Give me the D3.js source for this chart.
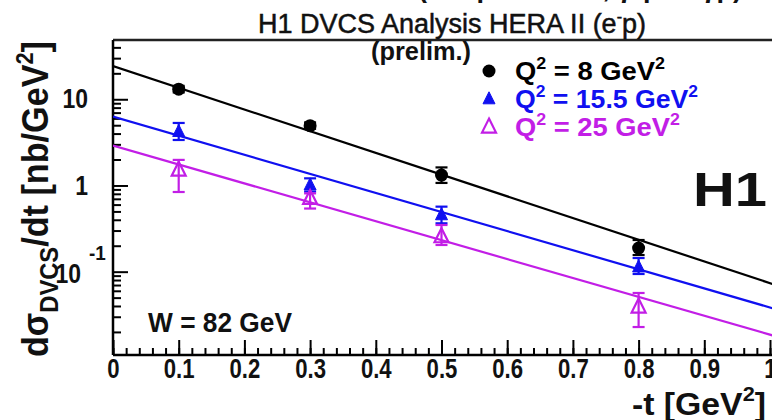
<!DOCTYPE html>
<html>
<head>
<meta charset="utf-8">
<script src="https://cdn.jsdelivr.net/npm/d3@7"></script>
<style>
  html, body { margin: 0; padding: 0; background: #fff; }
  svg { display: block; font-family: "Liberation Sans", Arial, Helvetica, sans-serif; }
</style>
</head>
<body>
<svg id="chart" width="772" height="420"></svg>
<script>
// -t bins [GeV^2]
const tValues = [0.1, 0.3, 0.5, 0.8];

// dσ/dt [nb/GeV^2] per Q^2 bin, with asymmetric error bars
const sigmaQ8   = [13.1, 4.94, 1.32, 0.188];
const errUpQ8   = [1.2, 0.45, 0.3, 0.045];
const errDnQ8   = [1.1, 0.4, 0.25, 0.032];

const sigmaQ15  = [4.21, 1.01, 0.455, 0.113];
const errUpQ15  = [1.1, 0.2, 0.113, 0.031];
const errDnQ15  = [0.84, 0.16, 0.091, 0.019];

const sigmaQ25  = [1.51, 0.71, 0.255, 0.039];
const errUpQ25  = [0.47, 0.10, 0.093, 0.0176];
const errDnQ25  = [0.67, 0.17, 0.051, 0.0162];

// exponential fits A·exp(-b|t|)
const fitAmplitude = [24.3, 6.3, 2.9];
const fitSlope     = [5.8, 5.1, 5.05];

const seriesLabels = ["8", "15.5", "25"];
const seriesColors = ["#000000", "#1010f0", "#c21ee6"];

const xTickLabels = [0, 0.1, 0.2, 0.3, 0.4, 0.5, 0.6, 0.7, 0.8, 0.9, 1];
const yMajorTicks = [0.1, 1, 10];

const series = [
  { v: sigmaQ8,  up: errUpQ8,  dn: errDnQ8,  marker: "dot" },
  { v: sigmaQ15, up: errUpQ15, dn: errDnQ15, marker: "tri" },
  { v: sigmaQ25, up: errUpQ25, dn: errDnQ25, marker: "opentri" }
].map((s, i) => ({ ...s, label: seriesLabels[i], color: seriesColors[i],
                   A: fitAmplitude[i], b: fitSlope[i] }));

// squeeze a text horizontally to a fraction of its natural width (condensed look)
function condense(sel, factor) {
  sel.each(function () {
    const w = this.getComputedTextLength();
    if (w > 0) d3.select(this).attr("textLength", w * factor).attr("lengthAdjust", "spacingAndGlyphs");
  });
}

const svg = d3.select("#chart");
const plotL = 113, plotR = 770, plotT = 40, plotB = 355;

const x = d3.scaleLinear().domain([0, 1]).range([plotL, plotR]);
const y = d3.scaleLog().domain([0.0108, 48.7]).range([plotB, plotT]);

// clip region for the plotting area
svg.append("clipPath").attr("id", "plotclip")
  .append("rect").attr("x", plotL).attr("y", plotT).attr("width", 772 - plotL).attr("height", plotB - plotT);

// frame
svg.append("line").attr("x1", plotL).attr("x2", 772).attr("y1", plotT).attr("y2", plotT)
  .attr("stroke", "#222").attr("stroke-width", 2.5);

// x axis: ticks pointing into the plot
const minorX = d3.range(0, 51).map(i => i / 50);
svg.append("g").attr("transform", `translate(0,${plotB})`)
  .call(d3.axisBottom(x).tickValues(minorX).tickSizeInner(-7).tickSizeOuter(0).tickFormat(""))
  .call(g => g.select(".domain").remove())
  .call(g => g.selectAll("line").attr("stroke", "#000").attr("stroke-width", 2));
svg.append("g").attr("transform", `translate(0,${plotB})`)
  .call(d3.axisBottom(x).tickValues(xTickLabels).tickSizeInner(-15).tickSizeOuter(0).tickPadding(4)
        .tickFormat(d => String(+d.toFixed(1))))
  .call(g => g.select(".domain").remove())
  .call(g => g.selectAll("line").attr("stroke", "#000").attr("stroke-width", 2))
  .call(g => g.selectAll("text").attr("font-size", 27).attr("font-weight", "bold")
        .attr("fill", "#111").attr("font-family", "Liberation Sans, Arial, sans-serif"))
  .call(g => condense(g.selectAll("text"), 0.82));
svg.append("line").attr("x1", plotL).attr("x2", 772).attr("y1", plotB).attr("y2", plotB)
  .attr("stroke", "#000").attr("stroke-width", 2.5);

// y axis: log ticks pointing into the plot
const [yLo, yHi] = y.domain();
const minorY = [];
for (let e = -2; e <= 1; e++) {
  for (let k = 2; k <= 9; k++) {
    const v = k * Math.pow(10, e);
    if (v >= yLo && v <= yHi) minorY.push(v);
  }
}
svg.append("g").attr("transform", `translate(${plotL},0)`)
  .call(d3.axisLeft(y).tickValues(minorY).tickSizeInner(-8).tickSizeOuter(0).tickFormat(""))
  .call(g => g.select(".domain").remove())
  .call(g => g.selectAll("line").attr("stroke", "#000").attr("stroke-width", 2));
svg.append("g").attr("transform", `translate(${plotL},0)`)
  .call(d3.axisLeft(y).tickValues(yMajorTicks).tickSizeInner(-15).tickSizeOuter(0).tickPadding(25)
        .tickFormat(d => d === 0.1 ? "" : String(d)))
  .call(g => g.select(".domain").remove())
  .call(g => g.selectAll("line").attr("stroke", "#000").attr("stroke-width", 2))
  .call(g => g.selectAll("text").attr("font-size", 27).attr("font-weight", "bold")
        .attr("fill", "#111").attr("font-family", "Liberation Sans, Arial, sans-serif"))
  .call(g => condense(g.selectAll("text"), 0.85));
svg.append("line").attr("x1", plotL).attr("x2", plotL).attr("y1", plotT).attr("y2", plotB)
  .attr("stroke", "#000").attr("stroke-width", 2.5);

// 10^-1 label
const y01 = y(0.1);
svg.append("text").attr("x", 81).attr("y", y01 + 11).attr("text-anchor", "end")
  .attr("font-size", 27).attr("font-weight", "bold").attr("fill", "#111").text("10")
  .call(t => condense(t, 0.85));
svg.append("text").attr("x", 89).attr("y", y01 - 12)
  .attr("font-size", 21).attr("font-weight", "bold").attr("fill", "#111").text("-1")
  .call(t => condense(t, 0.9));

// fit lines
const plot = svg.append("g").attr("clip-path", "url(#plotclip)");
const fitLine = d3.line().x(d => x(d.t)).y(d => y(d.v));
series.forEach(s => {
  const pts = [0, 1.02].map(t => ({ t, v: s.A * Math.exp(-s.b * t) }));
  plot.append("path").attr("d", fitLine(pts)).attr("fill", "none")
    .attr("stroke", s.color).attr("stroke-width", 2.2);
});

// markers
function drawMarker(g, kind, cx, cy, color) {
  if (kind === "dot") {
    g.append("circle").attr("cx", cx).attr("cy", cy).attr("r", 6.5).attr("fill", color);
  } else {
    const h = kind === "tri" ? 12 : 14, w = kind === "tri" ? 12 : 14;
    const p = `M${cx},${cy - h * 0.6} L${cx + w / 2},${cy + h * 0.4} L${cx - w / 2},${cy + h * 0.4} Z`;
    g.append("path").attr("d", p)
      .attr("fill", kind === "tri" ? color : "#fff").attr("fill-opacity", kind === "tri" ? 1 : 0)
      .attr("stroke", color).attr("stroke-width", kind === "tri" ? 1 : 2.2);
  }
}

// data points with error bars
series.forEach(s => {
  const g = svg.append("g");
  tValues.forEach((t, i) => {
    const cx = x(t), v = s.v[i];
    const yTop = y(v + s.up[i]), yBot = y(v - s.dn[i]);
    g.append("line").attr("x1", cx).attr("x2", cx).attr("y1", yTop).attr("y2", yBot)
      .attr("stroke", s.color).attr("stroke-width", 2.2);
    [yTop, yBot].forEach(yy => g.append("line")
      .attr("x1", cx - 6).attr("x2", cx + 6).attr("y1", yy).attr("y2", yy)
      .attr("stroke", s.color).attr("stroke-width", 2.2));
    drawMarker(g, s.marker, cx, y(v), s.color);
  });
});

// legend
svg.append("text").attr("x", 371).attr("y", 60)
  .attr("font-size", 25).attr("font-weight", "bold").attr("fill", "#111")
  .attr("textLength", 100).attr("lengthAdjust", "spacingAndGlyphs").text("(prelim.)");
const legendY = [71, 99, 127];
const legendW = [150, 183, 165];
series.forEach((s, i) => {
  drawMarker(svg, s.marker, 489, legendY[i], s.color);
  const t = svg.append("text").attr("x", 515).attr("y", legendY[i] + 9)
    .attr("font-size", 26).attr("font-weight", "bold").attr("fill", s.color)
    .attr("textLength", legendW[i]).attr("lengthAdjust", "spacingAndGlyphs");
  t.append("tspan").text("Q");
  t.append("tspan").attr("font-size", 17).attr("dy", -11).text("2");
  t.append("tspan").attr("dy", 11).text(` = ${s.label} GeV`);
  t.append("tspan").attr("font-size", 17).attr("dy", -11).text("2");
});

// annotations
svg.append("text").attr("x", 148).attr("y", 332)
  .attr("font-size", 27).attr("font-weight", "bold").attr("fill", "#111")
  .attr("textLength", 144).attr("lengthAdjust", "spacingAndGlyphs").text("W = 82 GeV");
svg.append("text").attr("x", 693).attr("y", 206).attr("font-size", 48).attr("font-weight", "bold")
  .attr("fill", "#111").attr("textLength", 74).attr("lengthAdjust", "spacingAndGlyphs").text("H1");

// titles
svg.append("text").attr("x", 418).attr("y", -3).attr("font-size", 27).attr("font-weight", "bold")
  .attr("fill", "#111").text("(t-dependence, γ*p → γp)");
const title = svg.append("text").attr("x", 452).attr("y", 33).attr("text-anchor", "middle")
  .attr("font-size", 27).attr("fill", "#111").attr("stroke", "#111").attr("stroke-width", 0.5);
title.append("tspan").text("H1 DVCS Analysis HERA II (e");
title.append("tspan").attr("font-size", 16).attr("dy", -11).text("-");
title.append("tspan").attr("dy", 11).text("p)");

// x-axis title
const xt = svg.append("text").attr("x", 632).attr("y", 415).attr("font-size", 31)
  .attr("font-weight", "bold").attr("fill", "#111")
  .attr("textLength", 134).attr("lengthAdjust", "spacingAndGlyphs");
xt.append("tspan").text("-t [GeV");
xt.append("tspan").attr("font-size", 20).attr("dy", -14).text("2");
xt.append("tspan").attr("dy", 14).text("]");

// y-axis title
const yt = svg.append("text").attr("transform", "translate(48,357) rotate(-90)")
  .attr("font-size", 36).attr("font-weight", "bold").attr("fill", "#111")
  .attr("textLength", 316).attr("lengthAdjust", "spacingAndGlyphs");
yt.append("tspan").text("dσ");
yt.append("tspan").attr("font-size", 25).attr("dy", 10).text("DVCS");
yt.append("tspan").attr("dy", -10).text("/dt [nb/GeV");
yt.append("tspan").attr("font-size", 23).attr("dy", -15).text("2");
yt.append("tspan").attr("dy", 15).text("]");
</script>
</body>
</html>
